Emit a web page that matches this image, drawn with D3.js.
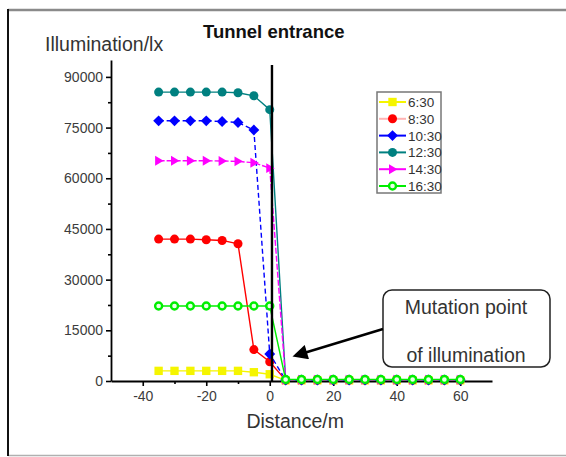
<!DOCTYPE html>
<html>
<head>
<meta charset="utf-8">
<script src="https://cdn.jsdelivr.net/npm/d3@7/dist/d3.min.js"></script>
<style>
  html, body { margin: 0; padding: 0; background: #fff; }
  svg { display: block; font-family: Arial, "Liberation Sans", sans-serif; }
</style>
</head>
<body>
<svg id="chart" width="566" height="457"></svg>
<script>
// Measurement positions along the road (m); negative = outside the tunnel
const distances = [-35, -30, -25, -20, -15, -10, -5, 0, 5, 10, 15, 20, 25, 30, 35, 40, 45, 50, 55, 60];

// Illuminance (lx) recorded at each time of day
const times = ["6:30", "8:30", "10:30", "12:30", "14:30", "16:30"];
const lux630  = [3000, 3000, 3000, 3000, 3000, 3000, 2600, 2000, 200, 200, 200, 200, 200, 200, 200, 200, 200, 200, 200, 200];
const lux830  = [42000, 42000, 42000, 41800, 41600, 40600, 9300, 5700, 250, 250, 250, 250, 250, 250, 250, 250, 250, 250, 250, 250];
const lux1030 = [77000, 77000, 77000, 77000, 76800, 76500, 74300, 8000, 300, 300, 300, 300, 300, 300, 300, 300, 300, 300, 300, 300];
const lux1230 = [85500, 85500, 85500, 85500, 85500, 85300, 84400, 80300, 350, 350, 350, 350, 350, 350, 350, 350, 350, 350, 350, 350];
const lux1430 = [65200, 65200, 65200, 65200, 65100, 65000, 64600, 63000, 350, 350, 350, 350, 350, 350, 350, 350, 350, 350, 350, 350];
const lux1630 = [22200, 22200, 22200, 22200, 22200, 22200, 22200, 22200, 450, 450, 450, 450, 450, 450, 450, 450, 450, 450, 450, 450];

const xTicks = [-40, -20, 0, 20, 40, 60];
const xMinorTicks = [-30, -10, 10, 30, 50];
const yTicks = [0, 15000, 30000, 45000, 60000, 75000, 90000];
const yMinorTicks = [7500, 22500, 37500, 52500, 67500, 82500];
const entranceX = 0.7;   // tunnel portal line

const seriesList = [
  { name: times[0], values: lux630,  color: "#f5f500", legendLine: "#f5f500", symbol: d3.symbolSquare, size: 70, dash: null },
  { name: times[1], values: lux830,  color: "#ff0000", legendLine: "#ffb4b4", symbol: d3.symbolCircle, size: 64, dash: null },
  { name: times[2], values: lux1030, color: "#0000ff", legendLine: "#0000ff", symbol: "diamond",       size: 64, dash: "5,3" },
  { name: times[3], values: lux1230, color: "#008080", legendLine: "#008080", symbol: d3.symbolCircle, size: 64, dash: null },
  { name: times[4], values: lux1430, color: "#ff00ff", legendLine: "#ff00ff", symbol: "triRight",     size: 64, dash: "6,2" },
  { name: times[5], values: lux1630, color: "#00ee00", legendLine: "#00ee00", symbol: "ring",         size: 64, dash: null }
];

const svg = d3.select("#chart");

// Outer frame
svg.append("line").attr("x1", 8).attr("x2", 566).attr("y1", 10).attr("y2", 10)
  .attr("stroke", "#8a8a8a").attr("stroke-width", 2.5);
svg.append("line").attr("x1", 8).attr("x2", 566).attr("y1", 455.5).attr("y2", 455.5)
  .attr("stroke", "#b0b0b0").attr("stroke-width", 1.5);
svg.append("line").attr("x1", 8).attr("x2", 8).attr("y1", 9).attr("y2", 456)
  .attr("stroke", "#111").attr("stroke-width", 2);

const x = d3.scaleLinear().domain([-50, 70]).range([111, 492]);
const y = d3.scaleLinear().domain([0, 95000]).range([381, 60]);

// Axes
const fmt = d => String(d);
svg.append("g").attr("transform", `translate(${x(-50)},0)`)
  .call(d3.axisLeft(y).tickValues(yTicks).tickFormat(fmt).tickSize(5).tickSizeOuter(0).tickPadding(3));
svg.append("g").attr("transform", `translate(${x(-50)},0)`)
  .call(d3.axisLeft(y).tickValues(yMinorTicks).tickFormat("").tickSize(3).tickSizeOuter(0))
  .select(".domain").remove();
svg.append("g").attr("transform", `translate(0,${y(0)})`)
  .call(d3.axisBottom(x).tickValues(xTicks).tickFormat(fmt).tickSize(5).tickSizeOuter(0).tickPadding(5));
svg.append("g").attr("transform", `translate(0,${y(0)})`)
  .call(d3.axisBottom(x).tickValues(xMinorTicks).tickFormat("").tickSize(3).tickSizeOuter(0))
  .select(".domain").remove();

svg.selectAll(".tick line").attr("stroke", "#000").attr("stroke-width", 1.6);
svg.selectAll(".domain").attr("stroke", "#000").attr("stroke-width", 1.8);
svg.selectAll(".tick text").attr("fill", "#3c3c3c").attr("font-size", 14)
  .attr("font-family", "Arial, 'Liberation Sans', sans-serif");

// Marker shapes
const line = d3.line().x((d, i) => x(distances[i])).y(d => y(d));
const triRight = {
  draw(ctx, size) {
    const r = Math.sqrt(size) * 0.62;
    ctx.moveTo(r, 0); ctx.lineTo(-r * 0.7, -r); ctx.lineTo(-r * 0.7, r); ctx.closePath();
  }
};
const diamond = {
  draw(ctx, size) {
    const r = Math.sqrt(size) * 0.68;
    ctx.moveTo(0, -r); ctx.lineTo(r, 0); ctx.lineTo(0, r); ctx.lineTo(-r, 0); ctx.closePath();
  }
};

function drawMarker(g, s, cx, cy) {
  if (s.symbol === "ring") {
    g.append("circle").attr("cx", cx).attr("cy", cy).attr("r", 3.5)
      .attr("fill", "#eaffea").attr("stroke", s.color).attr("stroke-width", 2.4);
  } else {
    const type = s.symbol === "triRight" ? triRight : s.symbol === "diamond" ? diamond : s.symbol;
    g.append("path").attr("transform", `translate(${cx},${cy})`)
      .attr("d", d3.symbol().type(type).size(s.size)())
      .attr("fill", s.color);
  }
}

const plot = svg.append("g");
seriesList.forEach(s => {
  plot.append("path").datum(s.values)
    .attr("d", line).attr("fill", "none")
    .attr("stroke", s.color).attr("stroke-width", 1.4)
    .attr("stroke-dasharray", s.dash);
  const mg = plot.append("g");
  s.values.forEach((v, i) => drawMarker(mg, s, x(distances[i]), y(v)));
});

// Tunnel portal line
svg.append("line")
  .attr("x1", x(entranceX)).attr("x2", x(entranceX))
  .attr("y1", y(95000) + 5).attr("y2", y(0))
  .attr("stroke", "#000").attr("stroke-width", 2.4);

// Titles
svg.append("text").attr("x", 203).attr("y", 38).text("Tunnel entrance")
  .attr("font-size", 18.5).attr("font-weight", "bold").attr("fill", "#111");
svg.append("text").attr("x", 45).attr("y", 51).text("Illumination/lx")
  .attr("font-size", 19.5).attr("fill", "#333");
svg.append("text").attr("x", x(8)).attr("y", 428).attr("text-anchor", "middle")
  .text("Distance/m").attr("font-size", 19.5).attr("fill", "#333");

// Legend
const legend = svg.append("g");
legend.append("rect").attr("x", 377).attr("y", 92).attr("width", 64).attr("height", 101)
  .attr("fill", "#fff").attr("stroke", "#777").attr("stroke-width", 1.5);
seriesList.forEach((s, i) => {
  const ly = 102 + i * 16.8;
  legend.append("line").attr("x1", 379).attr("x2", 406).attr("y1", ly).attr("y2", ly)
    .attr("stroke", s.legendLine).attr("stroke-width", 2);
  drawMarker(legend, s, 392.5, ly);
  legend.append("text").attr("x", 408).attr("y", ly + 5).text(s.name)
    .attr("font-size", 13.5).attr("fill", "#333");
});

// Callout
const callout = svg.append("g");
callout.append("rect").attr("x", 383).attr("y", 290).attr("width", 167).attr("height", 77)
  .attr("rx", 9).attr("fill", "#fff").attr("stroke", "#222").attr("stroke-width", 1.5);
callout.append("text").attr("x", 466).attr("y", 314).attr("text-anchor", "middle")
  .text("Mutation point").attr("font-size", 19.5).attr("fill", "#333");
callout.append("text").attr("x", 466).attr("y", 362).attr("text-anchor", "middle")
  .text("of illumination").attr("font-size", 19.5).attr("fill", "#333");

svg.append("defs").append("marker").attr("id", "arrowHead")
  .attr("viewBox", "0 0 10 10").attr("refX", 2).attr("refY", 5)
  .attr("markerWidth", 6.5).attr("markerHeight", 6).attr("orient", "auto")
  .attr("markerUnits", "strokeWidth")
  .append("path").attr("d", "M0,0 L10,5 L0,10 Z").attr("fill", "#000");
svg.append("line").attr("x1", 383).attr("y1", 329).attr("x2", 304).attr("y2", 353)
  .attr("stroke", "#000").attr("stroke-width", 2.5).attr("marker-end", "url(#arrowHead)");
</script>
</body>
</html>
